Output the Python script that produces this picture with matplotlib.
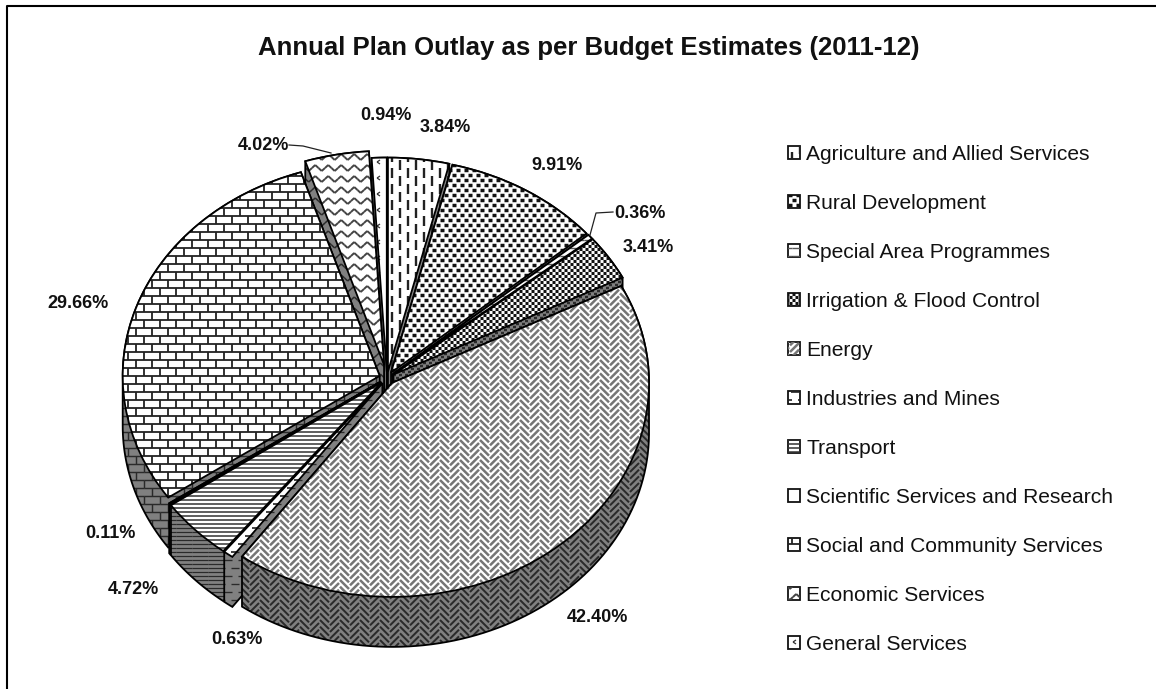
import numpy as np
import matplotlib
matplotlib.use('Agg')
import matplotlib.pyplot as plt
from matplotlib.collections import LineCollection
from matplotlib.patches import Patch, PathPatch, Polygon
from matplotlib.transforms import Affine2D

plt.rcParams['font.family'] = ['Liberation Sans', 'DejaVu Sans']

title = 'Annual Plan Outlay as per Budget Estimates (2011-12)'
categories = ['Agriculture and Allied Services', 'Rural Development', 'Special Area Programmes',
              'Irrigation & Flood Control', 'Energy', 'Industries and Mines', 'Transport',
              'Scientific Services and Research', 'Social and Community Services',
              'Economic Services', 'General Services']
values = [3.84, 9.91, 0.36, 3.41, 42.40, 0.63, 4.72, 0.11, 29.66, 4.02, 0.94]

W, H = 1156, 689
CX, CY, RX, RY = 387, 378, 257, 214   # pie ellipse in pixels
DEPTH = 50
WALL = '#808080'
explode = [0.03, 0.03, 0.03, 0.03, 0.03, 0.03, 0.03, 0.03, 0.03, 0.062, 0.03]

# label centres in pixels, same order as values
label_pos = [(445, 127), (557, 165), (640, 213), (648, 248), (597, 617), (237, 640),
             (133, 590), (110, 533), (78, 304), (263, 146), (386, 115)]

# fill patterns: tile width, tile height, line width, colour, segments inside the tile
herring = []
for n in range(3):
    y = n * 20 / 3
    herring.append(((0, y), (9, y + 9)))
    herring.append(((10, y + 12), (19, y + 3)))
patterns = [
    (16, 16, 1.7, '#222222', [((0, 0), (0, 10)), ((8, 8), (8, 18))]),
    (8, 10, 2.5, '#111111', [((0, 0), (3.6, 0)), ((4, 5), (7.6, 5))]),
    (8, 8, 1.0, '#555555', [((0, 0), (8, 0))]),
    (6, 6, 2.2, '#111111', [((0, 0), (3, 0)), ((3, 3), (6, 3))]),
    (20, 20, 1.8, '#757575', herring),
    (14, 16, 1.2, '#222222', [((0, 0), (8, 0)), ((7, 8), (15, 8))]),
    (16, 4, 1.1, '#333333', [((0, 0), (16, 0))]),
    None,
    (16, 16, 1.3, '#222222', [((0, 0), (16, 0)), ((0, 8), (16, 8)), ((0, 0), (0, 8)), ((8, 8), (8, 16))]),
    (13, 11, 1.4, '#444444', [((0, 3), (3.2, 0)), ((3.2, 0), (6.5, 3)), ((6.5, 3), (9.7, 6)), ((9.7, 6), (13, 3))]),
    (13, 16, 0.9, '#333333', [((3, 0), (0, 2)), ((0, 2), (3, 4))]),
]

fig = plt.figure(figsize=(W / 100, H / 100), dpi=100, facecolor='white')
ax = fig.add_axes([0, 0, 1, 1])

# pixel coordinates (y down) to display
px = Affine2D().scale(1, -1).translate(0, H)


def hull(pts):
    pts = sorted(set(map(tuple, np.round(pts, 5))))
    def half(seq):
        out = []
        for p in seq:
            while len(out) > 1 and ((out[-1][0] - out[-2][0]) * (p[1] - out[-2][1])
                                    - (out[-1][1] - out[-2][1]) * (p[0] - out[-2][0])) <= 0:
                out.pop()
            out.append(p)
        return out[:-1]
    return np.array(half(pts) + half(pts[::-1]))


def fill(pat, clip, box, z, dark=False):
    # repeat one tile over box and clip it to the patch
    if pat is None:
        return
    tw, th, lw, col, segs = pat
    x0, y0, x1, y1 = box
    out = []
    for i in range(int(x0 // tw) - 2, int(x1 // tw) + 2):
        for j in range(int(y0 // th) - 2, int(y1 // th) + 2):
            for a, b in segs:
                out.append(((a[0] + i * tw, a[1] + j * th), (b[0] + i * tw, b[1] + j * th)))
    lc = LineCollection(out, colors='#2a2a2a' if dark else col, linewidths=lw * 0.8 if dark else lw,
                        capstyle='butt', transform=px, zorder=z)
    ax.add_collection(lc, autolim=False)
    lc.set_clip_path(clip)


wedges, _ = ax.pie(values, explode=explode, startangle=90, counterclock=False,
                   radius=1, wedgeprops={'facecolor': 'white', 'edgecolor': 'none'})
ax.set_aspect('auto')
ax.set_xlim((0 - CX) / RX, (W - CX) / RX)
ax.set_ylim((CY - H) / RY, CY / RY)
ax.axis('off')

# back slices first so the front ones paint over them, biggest front slice last
mids = [np.radians((w.theta1 + w.theta2) / 2) for w in wedges]
order = sorted(range(len(wedges)), key=lambda k: -np.sin(mids[k]))
order.remove(4)
order.append(4)
z = 2
for k in order:
    w = wedges[k]
    t = np.radians(np.linspace(w.theta1, w.theta2, 90))
    top = np.column_stack([w.center[0] + w.r * np.cos(t), w.center[1] + w.r * np.sin(t)])
    top = np.vstack([top, w.center])
    low = top - [0, DEPTH / RY]
    side = hull(np.vstack([top, low]))
    wall = Polygon(side, closed=True, facecolor=WALL, edgecolor='none', zorder=z)
    ax.add_patch(wall)
    sx, sy = side[:, 0] * RX + CX, CY - side[:, 1] * RY
    box = (sx.min(), sy.min(), sx.max(), sy.max())
    fill(patterns[k], wall, box, z + 0.1, dark=True)
    ax.add_patch(Polygon(side, closed=True, fill=False, edgecolor='black', linewidth=1.3, zorder=z + 0.2))
    w.set_zorder(z + 0.3)
    fill(patterns[k], w, box, z + 0.4)
    ax.add_patch(PathPatch(w.get_path(), fill=False, edgecolor='black', linewidth=1.3, zorder=z + 0.5))
    z += 1

# frame lines on the left and top only, title, labels
ax.plot([7, 7, W], [H, 6, 6], color='black', lw=1.5, transform=px, zorder=1, clip_on=False)
ax.text(589, 48, title, transform=px, ha='center', va='center', fontsize=18.5, fontweight='bold',
        color='#111111')
for v, (x, y) in zip(values, label_pos):
    ax.text(x, y, f'{v:.2f}%', transform=px, ha='center', va='center', fontsize=13,
            fontweight='bold', color='#111111', zorder=40)

# leader lines
ax.plot([289, 303, 331], [145, 146, 153], color='#222222', lw=0.9, transform=px, zorder=40)
ax.plot([613, 596, 590], [212, 213, 235], color='#222222', lw=0.9, transform=px, zorder=40)

# legend
handles = [Patch(facecolor='white', edgecolor='#111111', linewidth=1.3) for c in categories]
leg = ax.legend(handles, categories, loc='upper left',
                bbox_to_anchor=(788 / W, 1 - 145 / H), bbox_transform=fig.transFigure,
                frameon=False, fontsize=15.1, handlelength=0.57, handleheight=0.57, handletextpad=0.29,
                labelspacing=1.432, borderpad=0, borderaxespad=0)
leg.set_zorder(50)
for t in leg.get_texts():
    t.set_color('#111111')
fig.canvas.draw()
for pat, h in zip(patterns, leg.get_patches()):
    b = h.get_window_extent()
    fill(pat, h, (b.x0, H - b.y1, b.x1, H - b.y0), 51)

fig.savefig('out.png', dpi=100)
